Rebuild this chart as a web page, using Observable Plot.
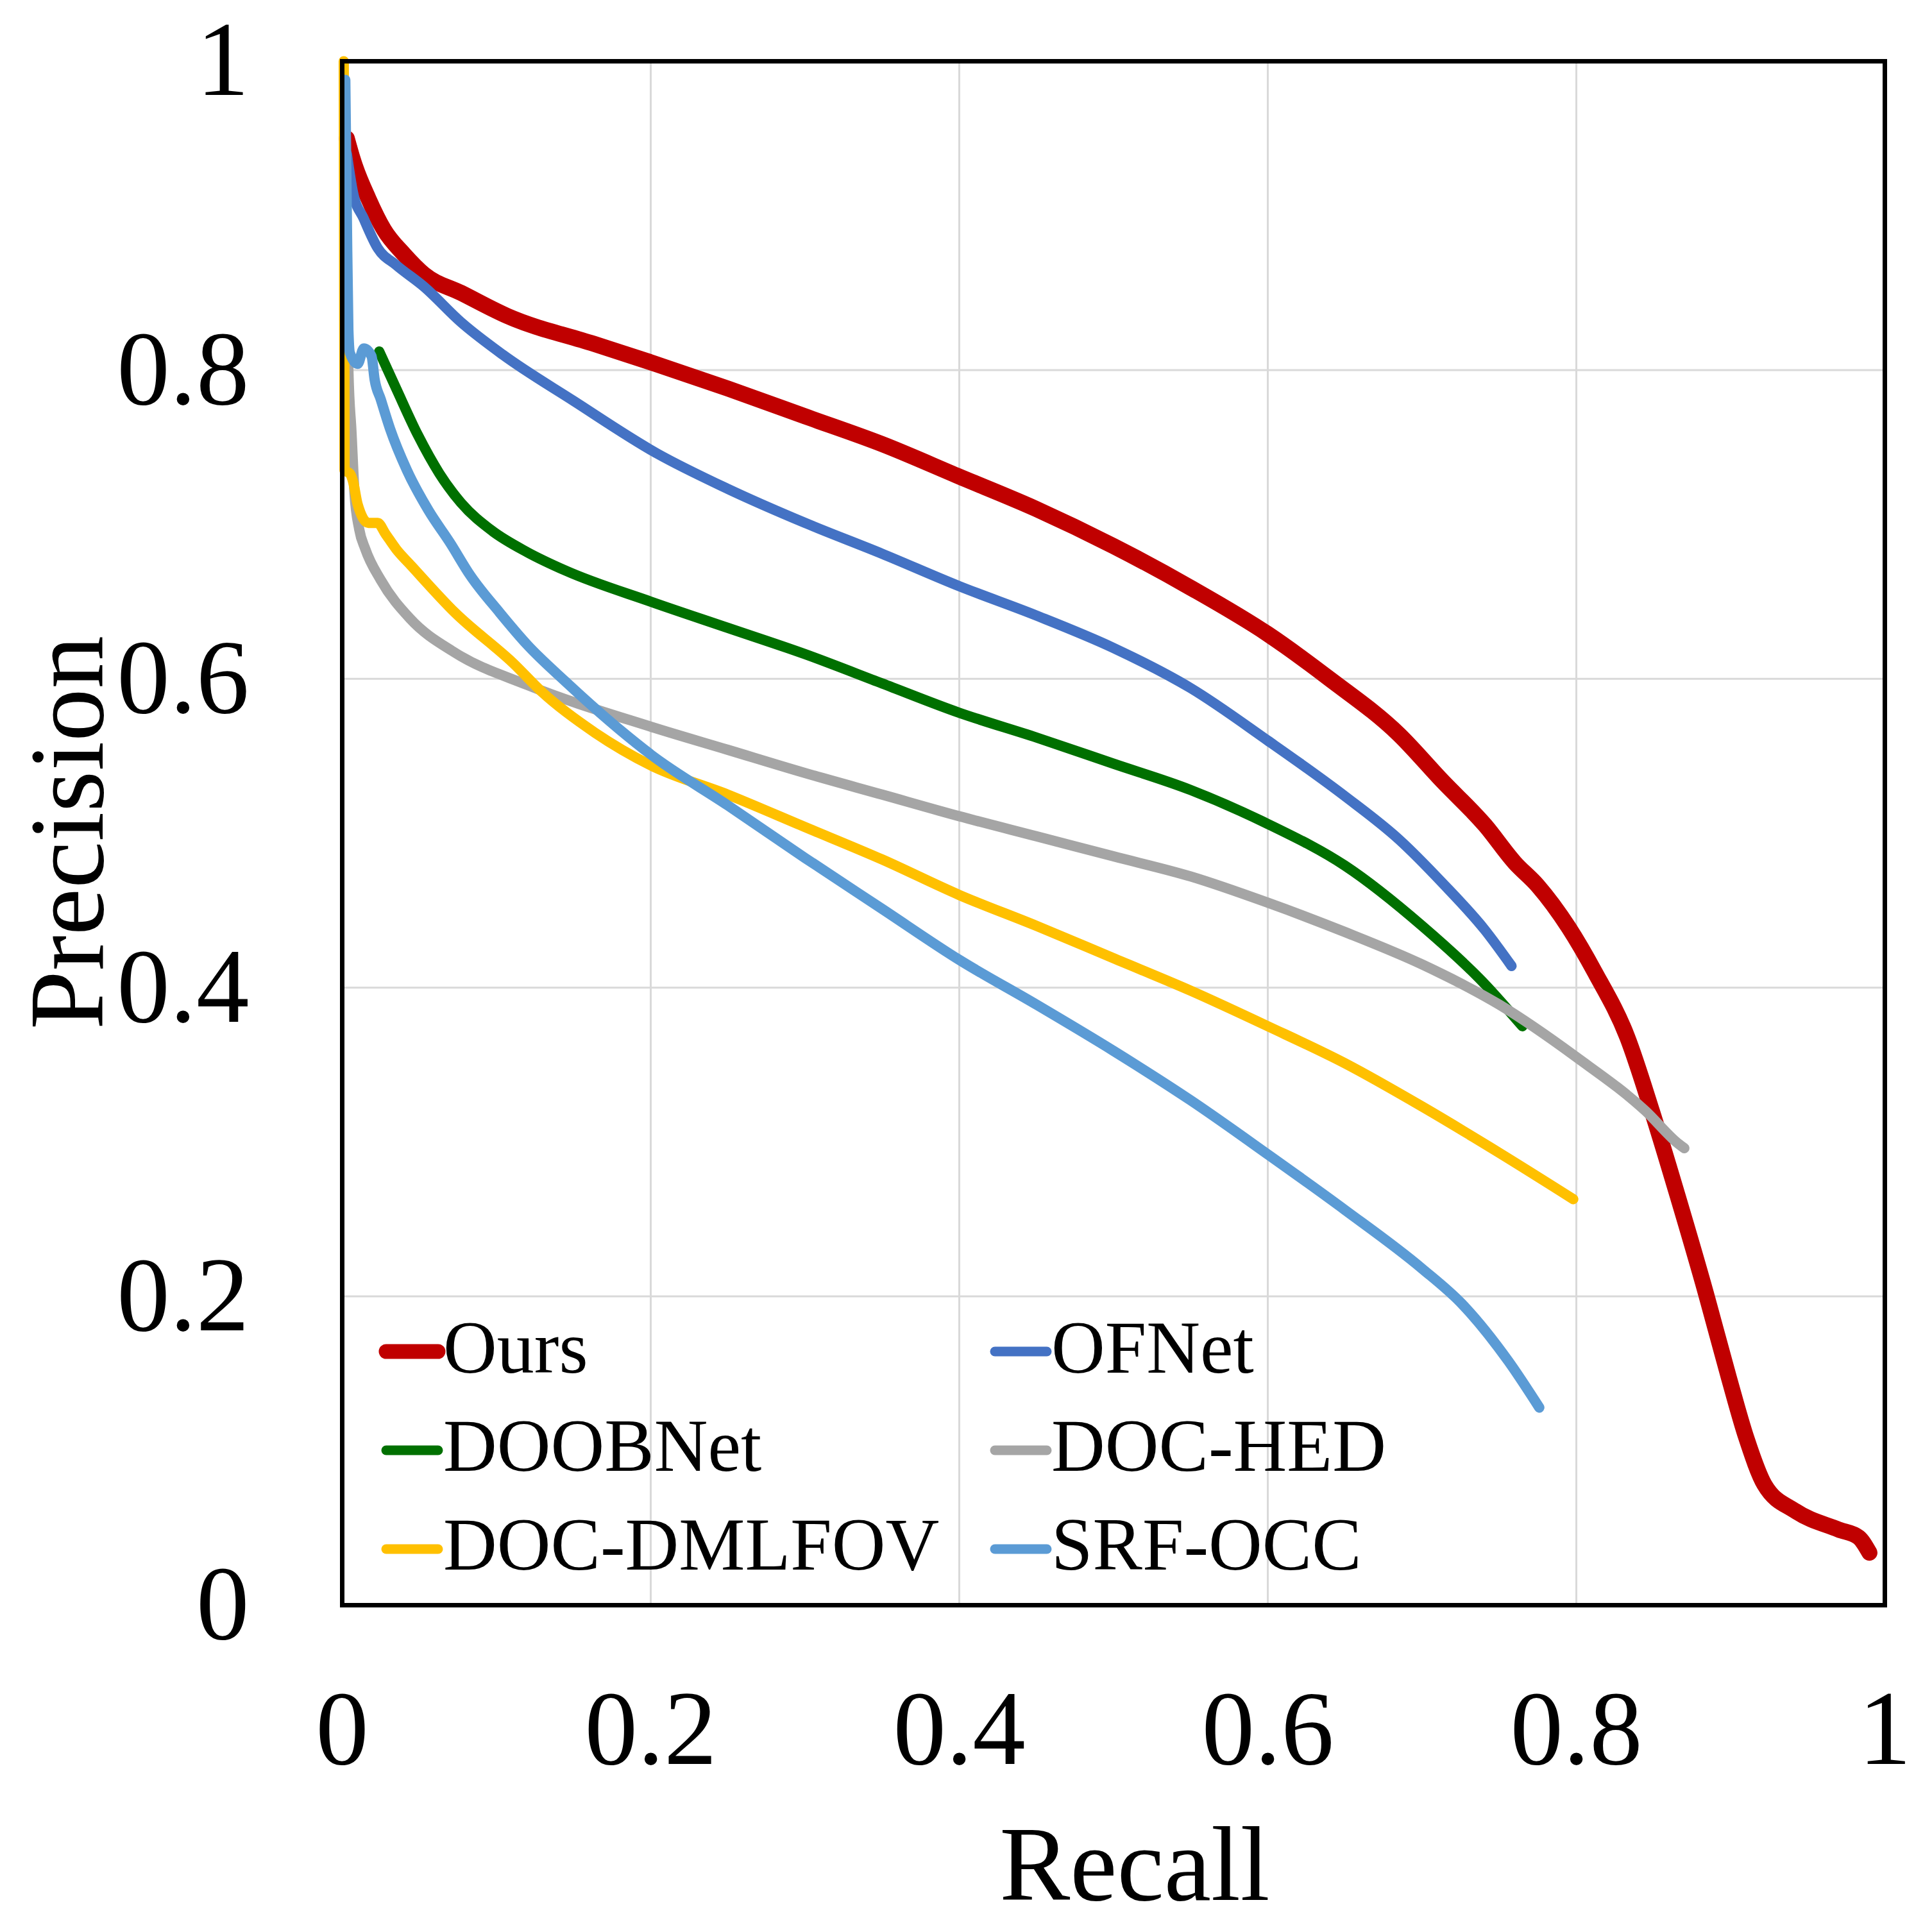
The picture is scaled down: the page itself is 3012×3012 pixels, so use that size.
<!DOCTYPE html>
<html>
<head>
<meta charset="utf-8">
<script src="https://cdn.jsdelivr.net/npm/d3@7"></script>
<script src="https://cdn.jsdelivr.net/npm/@observablehq/plot@0.6"></script>
<style>
  html, body { margin: 0; padding: 0; background: #fff; }
  #wrap { position: relative; width: 3012px; height: 3012px; font-family: "Liberation Serif", "Times New Roman", serif; }
  #wrap svg { display: block; }
</style>
</head>
<body>
<div id="wrap"></div>
<script>
// ---- data (recall, precision) ----
const seriesNames = ["Ours", "OFNet", "DOOBNet", "DOC-HED", "DOC-DMLFOV", "SRF-OCC"];
const seriesColors = ["#C00000", "#4472C4", "#007000", "#A5A5A5", "#FFC000", "#5B9BD5"];
const xTicks = [0, 0.2, 0.4, 0.6, 0.8, 1];
const yTicks = [0, 0.2, 0.4, 0.6, 0.8, 1];

const ours = [
  [0.003,0.950],[0.007,0.936],[0.017,0.911],[0.027,0.891],[0.040,0.875],[0.053,0.862],[0.077,0.850],
  [0.107,0.835],[0.163,0.817],[0.200,0.805],[0.250,0.788],[0.300,0.770],[0.350,0.752],[0.400,0.731],
  [0.450,0.710],[0.500,0.686],[0.550,0.659],[0.600,0.629],[0.640,0.600],[0.685,0.564],[0.713,0.534],
  [0.741,0.505],[0.760,0.481],[0.775,0.466],[0.795,0.439],[0.812,0.410],[0.833,0.368],[0.849,0.320],
  [0.866,0.264],[0.884,0.202],[0.899,0.147],[0.910,0.109],[0.922,0.078],[0.942,0.061],[0.970,0.049],
  [0.983,0.044],[0.990,0.034]
];
const ofnet = [
  [0.003,0.940],[0.007,0.915],[0.014,0.898],[0.023,0.879],[0.035,0.868],[0.053,0.854],[0.077,0.831],
  [0.104,0.810],[0.150,0.780],[0.204,0.746],[0.250,0.723],[0.300,0.701],[0.350,0.681],[0.400,0.660],
  [0.450,0.641],[0.500,0.620],[0.550,0.594],[0.600,0.560],[0.650,0.524],[0.685,0.496],[0.713,0.468],
  [0.741,0.437],[0.758,0.414]
];
const doobnet = [
  [0.024,0.812],[0.035,0.788],[0.049,0.758],[0.063,0.733],[0.077,0.714],[0.097,0.696],[0.120,0.682],
  [0.145,0.670],[0.200,0.650],[0.250,0.633],[0.300,0.616],[0.350,0.597],[0.400,0.578],[0.450,0.562],
  [0.500,0.545],[0.550,0.528],[0.600,0.506],[0.650,0.479],[0.700,0.440],[0.740,0.403],[0.765,0.375]
];
const docHed = [
  [0.003,0.850],[0.004,0.800],[0.006,0.760],[0.008,0.720],[0.011,0.697],[0.015,0.684],[0.025,0.664],
  [0.044,0.639],[0.073,0.617],[0.120,0.596],[0.200,0.569],[0.250,0.554],[0.300,0.539],[0.350,0.525],
  [0.400,0.511],[0.450,0.498],[0.500,0.485],[0.550,0.472],[0.600,0.455],[0.650,0.436],[0.700,0.415],
  [0.750,0.389],[0.800,0.355],[0.845,0.320],[0.866,0.299],[0.870,0.296]
];
const docDmlfov = [
  [0.0010,1.000],[0.0015,0.735],[0.005,0.733],[0.007,0.728],[0.010,0.713],[0.017,0.701],[0.023,0.701],
  [0.028,0.694],[0.035,0.684],[0.045,0.673],[0.073,0.643],[0.111,0.610],[0.130,0.591],[0.164,0.565],
  [0.200,0.544],[0.250,0.525],[0.300,0.504],[0.350,0.483],[0.400,0.460],[0.450,0.440],[0.500,0.419],
  [0.550,0.398],[0.600,0.375],[0.650,0.351],[0.700,0.323],[0.750,0.293],[0.798,0.263]
];
const srfOcc = [
  [0.002,0.988],[0.003,0.900],[0.004,0.826],[0.005,0.811],[0.010,0.804],[0.014,0.814],[0.019,0.809],
  [0.021,0.794],[0.025,0.781],[0.031,0.762],[0.042,0.735],[0.056,0.709],[0.070,0.688],[0.083,0.667],
  [0.102,0.643],[0.120,0.622],[0.145,0.598],[0.180,0.567],[0.200,0.551],[0.250,0.518],[0.300,0.484],
  [0.350,0.451],[0.400,0.418],[0.450,0.389],[0.500,0.359],[0.550,0.327],[0.600,0.292],[0.650,0.256],
  [0.700,0.218],[0.726,0.195],[0.756,0.158],[0.776,0.128]
];
const seriesData = [ours, ofnet, doobnet, docHed, docDmlfov, srfOcc];
const lineWidths = [25, 16, 16, 16, 16, 16];
const legendWidths = [23, 15, 15, 15, 15, 15];

// ---- chart ----
const W = 3012, H = 3012;
const mL = 533, mR = 74, mT = 95, mB = 510;
const font = "'Liberation Serif', 'Times New Roman', serif";

const lineMarks = seriesData.map((data, i) =>
  Plot.line(data, {
    x: d => d[0], y: d => d[1],
    stroke: seriesColors[i], strokeWidth: lineWidths[i],
    curve: "monotone-x", strokeLinecap: "round", strokeLinejoin: "round"
  })
);

const chart = Plot.plot({
  width: W, height: H,
  marginLeft: mL, marginRight: mR, marginTop: mT, marginBottom: mB,
  style: { fontFamily: font, fontSize: "165px", background: "white", color: "black", overflow: "visible" },
  x: { domain: [0, 1], axis: null },
  y: { domain: [0, 1], axis: null },
  marks: [
    Plot.gridX(xTicks.slice(1, -1), { stroke: "#d9d9d9", strokeOpacity: 1, strokeWidth: 3 }),
    Plot.gridY(yTicks.slice(1, -1), { stroke: "#d9d9d9", strokeOpacity: 1, strokeWidth: 3 }),
    ...lineMarks,
    Plot.frame({ stroke: "black", strokeWidth: 7 }),
    Plot.axisX(xTicks, { tickSize: 0, tickPadding: 130, label: null, fontSize: 165, tickFormat: d => String(d) }),
    Plot.axisY(yTicks, { tickSize: 0, tickPadding: 145, label: null, fontSize: 165, tickFormat: d => String(d) })
  ]
});

const wrap = document.getElementById("wrap");
wrap.appendChild(chart);

// ---- axis titles and legend (overlay) ----
const over = d3.select(wrap).append("svg")
  .attr("width", W).attr("height", H)
  .style("position", "absolute").style("left", "0px").style("top", "0px")
  .style("pointer-events", "none")
  .style("font-family", font);

over.append("text")
  .attr("x", 1769).attr("y", 2962)
  .attr("text-anchor", "middle").attr("font-size", 165).attr("fill", "black")
  .text("Recall");

over.append("text")
  .attr("transform", "translate(160,1298) rotate(-90)")
  .attr("text-anchor", "middle").attr("font-size", 165).attr("fill", "black")
  .text("Precision");

const colSwatch = [[602, 683], [1551, 1632]];
const colText = [691, 1639];
const rowBase = [2140, 2293, 2447];
const rowSwatch = [2107, 2261, 2415];
seriesNames.forEach((name, i) => {
  const col = i % 2, row = Math.floor(i / 2);
  const g = over.append("g");
  g.append("line")
    .attr("x1", colSwatch[col][0]).attr("x2", colSwatch[col][1])
    .attr("y1", rowSwatch[row]).attr("y2", rowSwatch[row])
    .attr("stroke", seriesColors[i]).attr("stroke-width", legendWidths[i])
    .attr("stroke-linecap", "round");
  g.append("text")
    .attr("x", colText[col]).attr("y", rowBase[row])
    .attr("font-size", 116).attr("fill", "black")
    .text(name);
});
</script>
</body>
</html>
